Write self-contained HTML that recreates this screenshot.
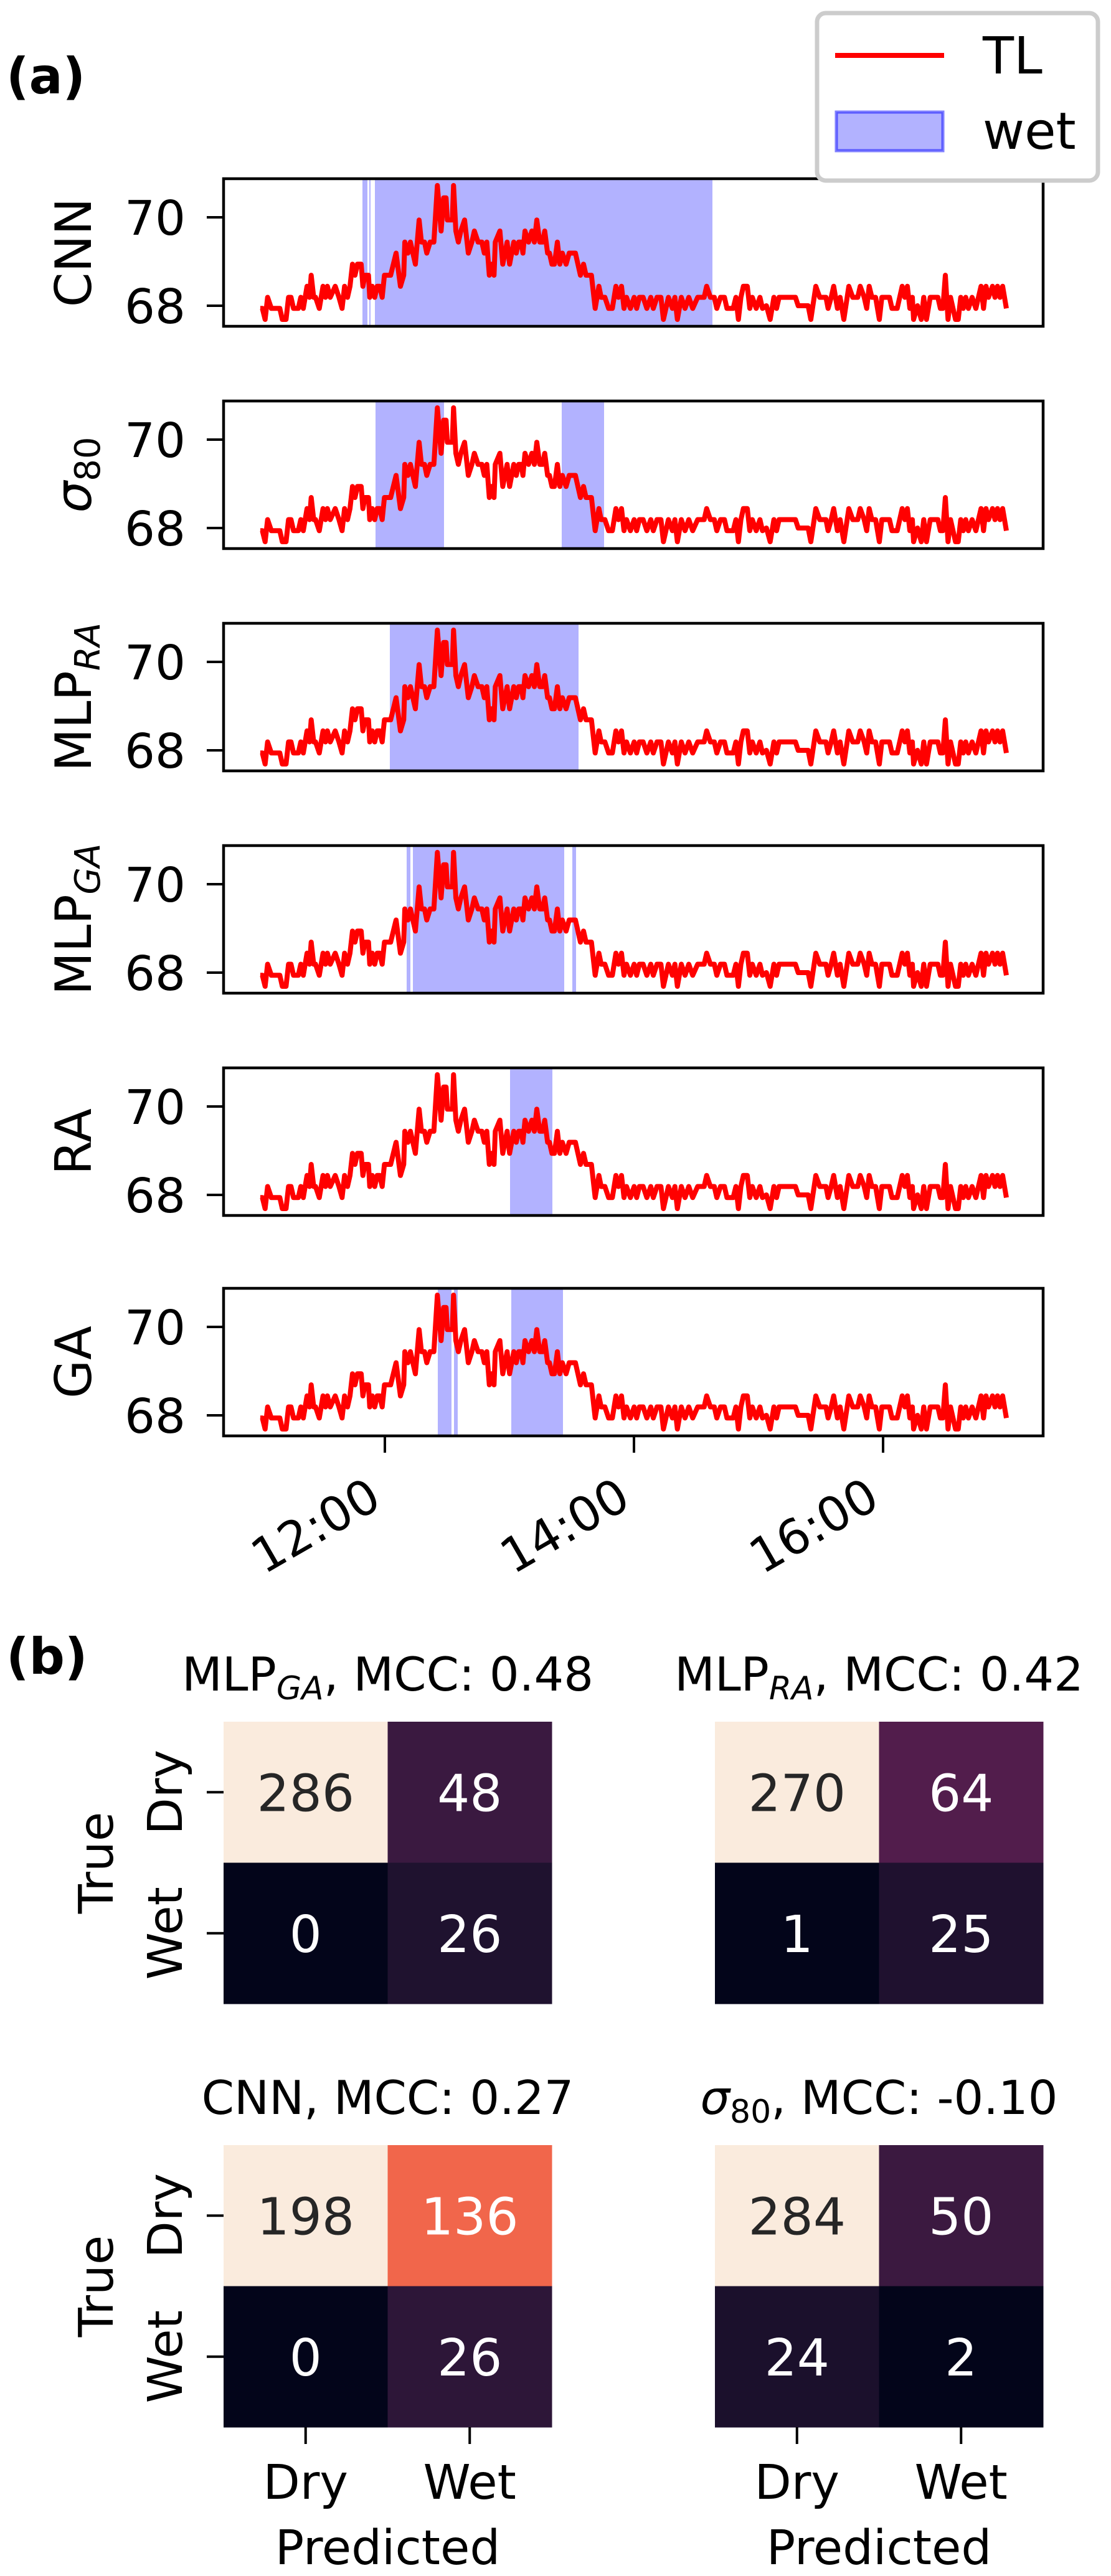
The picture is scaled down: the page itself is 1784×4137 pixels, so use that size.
<!DOCTYPE html>
<html><head><meta charset="utf-8"><style>
html,body{margin:0;padding:0;background:#fff;}
svg{display:block;font-family:"DejaVu Sans","Liberation Sans",sans-serif;}
</style></head><body>
<svg id="fig" width="1784" height="4137" viewBox="0 0 1784 4137" xmlns="http://www.w3.org/2000/svg">
<g id="a"></g>
<g id="b"></g>
</svg>
<script>
// ---- Panel (a) data ----
const tlMinutes = [0,1,2.3,3.5,5.3,9.4,10.6,12.4,13.6,14.8,16,18.3,19.5,20.7,22.5,23.7,24.5,25.7,26.6,28.4,30.2,31.4,32.3,33.7,36.1,37.9,39.4,40.6,42,43.2,44.4,45.6,46.8,48.6,49.4,50.4,52.1,52.7,53.9,55.1,56.3,57.5,58.7,59.8,62.8,65.4,67.5,69.1,69.6,71.1,72.3,74.7,76.5,77.6,79.1,80.2,81.8,83.6,85.3,87.1,88.3,89.5,90.1,92.5,93.1,94.2,95.4,96.6,98.4,100.2,101.9,103.1,104.9,106.7,107.9,109.1,110.3,111.4,112.6,113.2,115.4,116.8,118.9,120.1,122.1,123.3,124.5,125.7,126.5,127.5,129.2,130.8,132,133.2,134.6,136,137,138.4,139.3,140.5,141.7,143.1,144.3,145.5,147.3,148.8,151.8,154.2,155.7,156.9,159.5,161.3,163.1,164.2,166,167.8,169.6,171.3,172.5,174,
175.2,176.4,178.3,180.1,181.3,182.6,184.4,186.2,188.1,189.3,191.1,193,194.2,196.6,198.5,199.7,200.9,202.8,204.6,206.4,208.3,210.7,213.8,215,216.8,218.7,219.9,221.7,223.6,224.8,227.8,229.1,230.3,231.5,232.7,234.6,235.8,237,238.9,240.7,241.9,243.8,245.6,247.4,248.7,249.9,257.8,259.1,263.9,265.2,267.6,269.5,272.5,273.5,275,276.2,278,279.3,281.1,283.5,285.4,287.8,289,290.9,292.1,293.3,294.6,296.4,298.2,299.4,303.1,304.3,306.8,309.2,310.5,311.7,312.9,314.1,314.7,316.6,318.4,319.6,320.9,322.7,326.4,327.6,328.8,330,331.3,332.5,333.7,334.9,336.2,337.4,338.6,339.8,341.1,342.9,344.7,347.2,348.4,349.6,350.8,352.7,353.9,355.1,356.3,357.6,359.4];
const tlValues = [67.94,67.94,67.69,68.19,67.94,67.94,67.69,67.69,68.19,68.19,67.94,67.94,68.19,67.94,68.44,68.19,68.69,68.19,68.19,67.94,68.44,68.19,68.44,68.19,68.44,68.19,67.94,68.44,68.19,68.44,68.94,68.69,68.94,68.94,68.44,68.69,68.69,68.19,68.44,68.19,68.44,68.44,68.19,68.69,68.69,69.19,68.44,68.69,69.44,69.19,69.44,68.94,69.94,69.44,69.44,69.19,69.44,69.44,70.72,69.69,70.44,70.44,69.94,69.94,70.72,69.69,69.44,69.69,69.94,69.19,69.44,69.69,69.44,69.44,69.19,69.44,68.69,68.94,68.69,69.44,69.69,68.94,69.44,68.94,69.44,69.19,69.44,69.44,69.19,69.69,69.44,69.69,69.44,69.94,69.44,69.44,69.69,69.19,69.19,68.94,68.94,69.44,68.94,69.19,68.94,69.19,69.19,68.69,68.94,68.69,68.69,67.94,68.44,68.19,68.19,67.94,67.94,68.44,68.19,68.44,
67.94,68.19,67.94,68.19,67.94,68.19,68.19,67.94,68.19,67.94,68.19,68.19,67.69,68.19,67.94,68.19,67.69,68.19,67.94,68.19,67.94,68.19,68.19,68.44,68.19,68.19,67.94,68.19,68.19,67.94,67.94,68.19,67.69,68.19,68.44,68.44,67.94,68.19,67.94,68.19,67.94,68.0,67.69,68.19,67.94,68.19,68.19,68.0,68.0,67.69,68.44,68.19,68.19,67.94,68.19,68.44,67.94,68.19,67.69,68.44,68.19,68.19,68.44,68.19,67.94,68.44,68.19,68.19,67.69,68.19,68.19,67.94,67.94,68.44,68.19,68.44,67.94,68.19,67.69,68.0,67.69,68.19,67.69,68.19,68.19,67.94,67.94,68.69,67.69,68.19,67.94,67.69,67.69,68.19,67.94,68.19,67.94,68.19,67.94,68.44,67.94,68.44,68.19,68.44,68.19,68.44,68.19,68.44,67.94];
const panelNames = ["CNN","σ80","MLP_RA","MLP_GA","RA","GA"];
// wet spans in hours after 11:00
const wetCNN = [[0.82,0.86],[0.875,0.885],[0.92,3.63]];
const wetSigma = [[0.925,1.475],[2.42,2.76]];
const wetMlpRA = [[1.04,2.555]];
const wetMlpGA = [[1.175,1.205],[1.225,2.44],[2.505,2.535]];
const wetRA = [[2.005,2.345]];
const wetGA = [[1.425,1.535],[1.555,1.585],[2.015,2.43]];
const yTicks = [68,70];
const xTickHours = [12,14,16];
const xTickLabels = ["12:00","14:00","16:00"];

// ---- Panel (b) data ----
const cmTitles = [["MLP","GA",", MCC: 0.48"],["MLP","RA",", MCC: 0.42"],["CNN","",", MCC: 0.27"],["σ","80",", MCC: -0.10"]];
const cmMlpGA = [[286,48],[0,26]];
const cmMlpRA = [[270,64],[1,25]];
const cmCNN = [[198,136],[0,26]];
const cmSigma = [[284,50],[24,2]];
const cmLabels = ["Dry","Wet"];

const NS="http://www.w3.org/2000/svg";
function mk(tag,attrs,parent){const e=document.createElementNS(NS,tag);for(const k in attrs)e.setAttribute(k,attrs[k]);if(parent)parent.appendChild(e);return e;}

// ---- draw panel (a) ----
const A=document.getElementById('a');
const X0=359,X1=1675,H=237,tops=[287,644,1001,1358,1715,2069];
const startHour=11;
function xs(h){return 618+(h-12)*200;}
function ysF(top){return v=>top+62+(70-v)*71;}
const wets=[wetCNN,wetSigma,wetMlpRA,wetMlpGA,wetRA,wetGA];
const ylabelHTML=[
 '<tspan>CNN</tspan>',
 '<tspan font-style="italic">σ</tspan><tspan font-size="56" dy="14">80</tspan>',
 '<tspan>MLP</tspan><tspan font-size="56" font-style="italic" dy="14">RA</tspan>',
 '<tspan>MLP</tspan><tspan font-size="56" font-style="italic" dy="14">GA</tspan>',
 '<tspan>RA</tspan>','<tspan>GA</tspan>'];
const n=Math.min(tlMinutes.length,tlValues.length);
tops.forEach((top,i)=>{
  const g=mk('g',{},A);
  
  
  const ys=ysF(top);
  mk('defs',{},g).innerHTML='<clipPath id="c'+i+'"><rect x="'+X0+'" y="'+top+'" width="'+(X1-X0)+'" height="'+H+'"/></clipPath>';
  wets[i].forEach(s=>{
    const r=mk('rect',{x:xs(startHour+s[0]),y:top,width:(s[1]-s[0])*200,height:H,fill:'rgba(0,0,255,0.3)'},g);
    
    
  });
  let d='';
  for(let k=0;k<n;k++){d+=(k?'L':'M')+xs(startHour+tlMinutes[k]/60).toFixed(1)+','+ys(tlValues[k]).toFixed(1);}
  const p=mk('path',{d:d,fill:'none',stroke:'#ff0000','stroke-width':8,'stroke-linejoin':'round','clip-path':'url(#c'+i+')'},g);
  
  
  const fr=mk('rect',{x:X0,y:top,width:X1-X0,height:H,fill:'none',stroke:'#000','stroke-width':4.5},g);
  
  
  yTicks.forEach(t=>{
    mk('line',{x1:332,x2:X0,y1:ys(t),y2:ys(t),stroke:'#000','stroke-width':4},g);
    const tx=mk('text',{x:298,y:ys(t)+28,'text-anchor':'end','font-size':77},g);
    tx.textContent=t;
    
    
  });
  const cy=top+H/2;
  const yl=mk('text',{x:0,y:0,'text-anchor':'middle','font-size':80,transform:'translate(146,'+cy+') rotate(-90)'},g);
  yl.innerHTML=ylabelHTML[i];
  
  
});
const lastBottom=tops[5]+H;
xTickHours.forEach((h,i)=>{
  mk('line',{x1:xs(h),x2:xs(h),y1:lastBottom,y2:lastBottom+27,stroke:'#000','stroke-width':4},A);
  const t=mk('text',{x:0,y:0,'text-anchor':'end','font-size':77,transform:'translate('+(xs(h)-2)+','+(lastBottom+112)+') rotate(-30)'},A);
  t.textContent=xTickLabels[i];
  
  
});
const L=mk('g',{},A);


mk('rect',{x:1312,y:21,width:451,height:269,rx:14,fill:'#fff',stroke:'#cccccc','stroke-width':7},L);
mk('line',{x1:1341,x2:1516,y1:89,y2:89,stroke:'#ff0000','stroke-width':8},L);
mk('rect',{x:1343,y:180,width:171,height:62,fill:'rgba(0,0,255,0.3)',stroke:'rgba(0,0,255,0.5)','stroke-width':5},L);
let lt=mk('text',{x:1578,y:118,'font-size':82},L);lt.textContent='TL';


lt=mk('text',{x:1578,y:239,'font-size':82},L);lt.textContent='wet';


const la=mk('text',{x:10,y:150,'font-size':80,'font-weight':'bold'},A);la.textContent='(a)';



// ---- draw panel (b) ----
const B=document.getElementById('b');
const stops=[[0,[3,5,26]],[0.1,[34,19,49]],[0.2,[69,28,71]],[0.3,[106,31,86]],[0.4,[146,28,91]],[0.5,[185,22,87]],[0.6,[225,52,66]],[0.7,[243,110,76]],[0.8,[245,150,112]],[0.9,[246,194,164]],[1,[250,235,221]]];
function rocket(t){t=Math.max(0,Math.min(1,t));for(let i=1;i<stops.length;i++){if(t<=stops[i][0]){const a=stops[i-1],b=stops[i],f=(t-a[0])/(b[0]-a[0]);const c=a[1].map((v,j)=>Math.round(v+(b[1][j]-v)*f));return 'rgb('+c.join(',')+')';}}return 'rgb(250,235,221)';}
const mats=[cmMlpGA,cmMlpRA,cmCNN,cmSigma];
const mx=[359,1148],my=[2765,3445],titleY=[2715,3395],cw=263.5,ch=226.5;
mats.forEach((m,i)=>{
  const col=i%2,row=Math.floor(i/2),x0=mx[col],y0=my[row];
  const g=mk('g',{},B);
  
  
  const flat=m.flat(),vmin=Math.min(...flat),vmax=Math.max(...flat);
  m.forEach((r,ri)=>r.forEach((v,ci)=>{
    const t=(v-vmin)/(vmax-vmin||1);
    const c=mk('rect',{x:x0+ci*cw,y:y0+ri*ch,width:cw+0.5,height:ch+0.5,fill:rocket(t)},g);
    
    
    const tx=mk('text',{x:x0+ci*cw+cw/2,y:y0+ri*ch+ch/2+30,'text-anchor':'middle','font-size':82,fill:t>0.75?'#262626':'#ffffff'},g);
    tx.textContent=v;
    
    
  }));
  const tt=mk('text',{x:x0+cw,y:titleY[row],'text-anchor':'middle','font-size':75},g);
  const ti=cmTitles[i];
  tt.innerHTML=(ti[0]==='σ'?'<tspan font-style="italic">σ</tspan><tspan font-size="52" dy="14">'+ti[1]+'</tspan>':'<tspan>'+ti[0]+'</tspan>'+(ti[1]?'<tspan font-size="52" font-style="italic" dy="14">'+ti[1]+'</tspan>':''))+'<tspan dy="'+(ti[1]?-14:0)+'">'+ti[2]+'</tspan>';
  
  
  if(col===0){
    cmLabels.forEach((lb,k)=>{
      const cy=y0+k*ch+ch/2;
      mk('line',{x1:332,x2:x0,y1:cy,y2:cy,stroke:'#000','stroke-width':4},g);
      const t=mk('text',{x:0,y:0,'text-anchor':'middle','font-size':77,transform:'translate(292,'+cy+') rotate(-90)'},g);
      t.textContent=lb;
      
      
    });
    const tr=mk('text',{x:0,y:0,'text-anchor':'middle','font-size':77,transform:'translate(181,'+(y0+ch)+') rotate(-90)'},g);
    tr.textContent='True';
    
    
  }
  if(row===1){
    cmLabels.forEach((lb,k)=>{
      const cx=x0+k*cw+cw/2;
      mk('line',{x1:cx,x2:cx,y1:y0+2*ch,y2:y0+2*ch+27,stroke:'#000','stroke-width':4},g);
      const t=mk('text',{x:cx,y:4013,'text-anchor':'middle','font-size':77},g);
      t.textContent=lb;
      
      
    });
    const pr=mk('text',{x:x0+cw,y:4118,'text-anchor':'middle','font-size':77},g);
    pr.textContent='Predicted';
    
    
  }
});
const lb=mk('text',{x:10,y:2688,'font-size':80,'font-weight':'bold'},B);lb.textContent='(b)';


</script>
</body></html>
